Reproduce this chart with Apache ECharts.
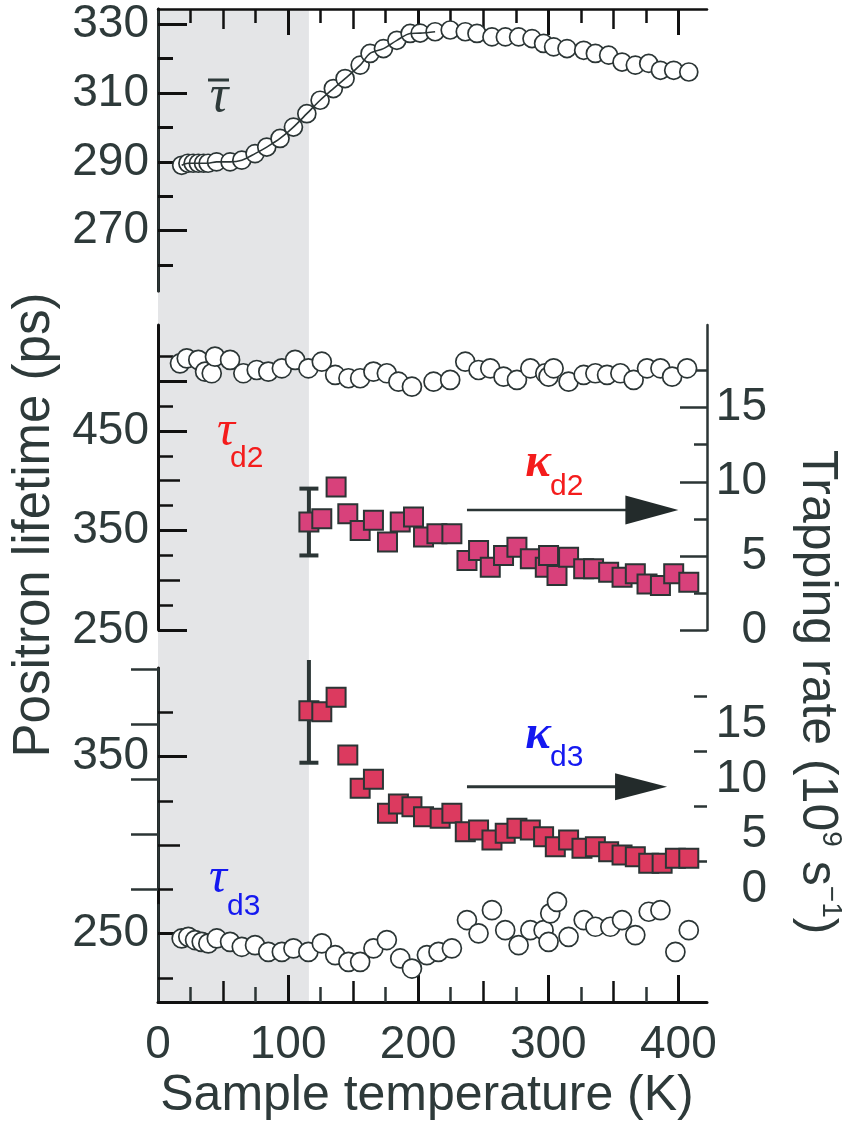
<!DOCTYPE html>
<html>
<head>
<meta charset="utf-8">
<title>Positron lifetime vs sample temperature</title>
<script src="https://cdn.jsdelivr.net/npm/echarts@6/dist/echarts.min.js"></script>
<style>
  html, body { margin: 0; padding: 0; background: #ffffff; }
  #chart { width: 844px; height: 1123px; }
</style>
</head>
<body>
<div id="chart"></div>
<script>
// ---------- data ----------
// Sample temperature axis (K)
const tempRange = [0, 422];
const shadedRange = [0, 116];
const xLabels = [0, 100, 200, 300, 400];
const xTick100 = [100, 200, 300, 400];
const xTick50 = [50, 150, 250, 350];
const xTick25 = [25, 75, 125, 175, 225, 275, 325, 375];

// Top panel: mean positron lifetime (ps)
const meanRange = [252.5, 334.4];
const meanLabels = [270, 290, 310, 330];
const meanMinor = [260, 280, 300, 320];
const tempMean = [18.2, 23, 27, 31, 35, 38.5, 45, 55.4, 64.4, 74.6, 83.6, 93.8, 104.1, 114.4, 124.6, 134.8, 143.8, 155.4, 163, 173.3, 183.6, 193.8, 201.5, 213, 224.6, 236.2, 245.2, 256.7, 267, 277.2, 287.5, 296.4, 304.1, 314.4, 327.2, 336.2, 346.4, 356.7, 366.9, 377.2, 386.2, 396.4, 408];
const tauMean = [289.0, 289.6, 289.6, 289.6, 289.6, 289.6, 290.0, 290.0, 290.5, 292.4, 294.3, 296.8, 300.1, 304.0, 307.9, 311.3, 314.2, 318.1, 321.5, 322.9, 325.3, 327.3, 327.4, 327.8, 328.3, 327.8, 327.3, 326.3, 326.3, 326.3, 325.8, 324.4, 323.4, 322.9, 322.4, 321.5, 321.0, 319.0, 318.1, 318.6, 316.6, 316.6, 316.1];
const meanFitMaxT = 215;

// Middle panel: lifetime tau_d2 (ps) and trapping rate kappa_d2 (1e9 s^-1)
const d2Range = [250, 556.5];
const d2Labels = [250, 350, 450];
const d2TickLong = [250, 350, 450, 500];
const d2TickMid = [300, 400];
const d2TickShort = [275, 325, 375, 425, 475, 525];
const tempTauD2 = [16.9, 22.1, 31, 36.2, 41.3, 43.8, 55.4, 65.6, 75.9, 84.8, 95.2, 105.4, 115.6, 125.9, 136.2, 146.4, 155.4, 165.6, 175.9, 184.8, 195.2, 211.8, 224.6, 236.2, 246.4, 255.4, 265.6, 275.9, 286.2, 297.7, 300.2, 304.1, 315.6, 327.2, 336.2, 345.2, 355.4, 365.6, 375.9, 386.2, 395.2, 406.7];
const tauD2 = [518, 523, 521.4, 509.6, 508, 524.7, 521.4, 508, 511.3, 509.6, 513, 521.4, 513, 519.6, 506.3, 503, 503, 509.6, 508, 499.5, 494.5, 499.5, 501.3, 519.6, 511.3, 513, 504.6, 501.3, 513, 508, 504.6, 513, 499.5, 506.3, 508, 506.3, 508, 501.3, 513, 513, 504.6, 513];

const kappaRangeD2 = [0, 20.58];
const kappaLabels = [0, 5, 10, 15];
const kappaTickLongD2 = [0, 5, 10, 15];
const kappaTickShort = [2.5, 7.5, 12.5, 17.5];
const tempKappaD2 = [116, 125.9, 136.9, 145.9, 155.4, 165.6, 176.4, 186.2, 196.4, 204.1, 214.4, 225.9, 237.5, 246.4, 255.4, 265.6, 275.9, 286.2, 297.7, 300.2, 306.7, 315.6, 327.2, 334.8, 346.4, 356.7, 366.9, 375.9, 386.2, 396.4, 408];
const kappaD2 = [7.28, 7.51, 9.65, 7.85, 6.72, 7.40, 5.93, 7.28, 7.62, 6.27, 6.50, 6.50, 4.69, 5.37, 4.24, 5.03, 5.59, 4.80, 4.24, 5.03, 3.67, 4.91, 4.13, 4.13, 3.90, 3.56, 3.79, 3.11, 3.00, 3.79, 3.22];
const errKappaD2 = [[116, 5.03, 9.54]];
const arrowD2 = { start: 237.5, end: 400, level: 8.1 };

// Bottom panel: lifetime tau_d3 (ps) and trapping rate kappa_d3 (1e9 s^-1)
const d3Range = [211.3, 400];
const d3Labels = [250, 350];
const d3TickLong = [250, 350];
const d3TickMid = [300];
const d3TickShort = [225, 275, 325, 375];
const tempTauD3 = [18.2, 23.3, 28.5, 33.6, 38.7, 45.2, 55.4, 64.4, 74.6, 84.8, 95.2, 104.1, 115.6, 125.9, 136.2, 146.4, 155.4, 165.6, 175.9, 186.2, 195.2, 206.7, 215.6, 225.9, 237.5, 246.4, 256.7, 266.9, 277.2, 286.2, 296.4, 300.2, 301.5, 306.7, 315.6, 327.2, 336.2, 347.7, 356.7, 366.9, 377.2, 386.2, 397.7, 408];
const tauD3 = [247.2, 248.1, 246.3, 245.3, 244.4, 247.2, 245.3, 242.5, 243.4, 239.6, 239.6, 241.6, 239.6, 244.4, 237.8, 234.0, 234.0, 241.6, 246.3, 235.9, 230.2, 237.8, 239.6, 241.6, 257.6, 250.1, 263.2, 251.9, 243.4, 251.9, 251.9, 245.3, 261.4, 267.9, 248.1, 257.6, 253.8, 253.8, 257.6, 249.1, 262.3, 263.2, 239.6, 251.9];

const kappaRangeD3 = [0, 20];
const kappaTickLongD3 = [0, 5, 10, 15, 20];
const tempKappaD3 = [116, 125.9, 136.9, 145.9, 155.4, 165.6, 176.4, 184.8, 195.2, 204.1, 216.9, 225.9, 236.2, 246.4, 256.7, 266.9, 275.9, 286.2, 296.4, 305.4, 315.6, 325.9, 336.2, 346.4, 356.7, 366.9, 377.2, 387.5, 397.7, 408];
const kappaD3 = [16.21, 16.12, 17.43, 12.18, 9.15, 9.97, 6.88, 7.73, 7.48, 6.57, 6.43, 6.88, 5.21, 5.36, 4.45, 5.06, 5.52, 5.36, 4.75, 3.85, 4.45, 3.70, 3.85, 3.39, 3.09, 2.94, 2.34, 2.34, 2.79, 2.79];
const errKappaD3 = [[116, 11.48, 20.82]];
const arrowD3 = { start: 237.5, end: 391.3, level: 9.3 };

// ---------- styling ----------
const INK = '#2e3a3a';
const AXIS_DARK = '#111111';
const AXIS_SLATE = '#2b3535';
const FONT = 'Liberation Sans';
const LABEL_SIZE = 46;
const RED = '#f41c1c';
const BLUE = '#1418f0';
const BAND = '#e4e5e7';

function zip(xs, ys) { return xs.map((x, i) => [x, ys[i]]); }

function grid(top, height) {
  return { left: 158, width: 549, top: top, height: height, containLabel: false, outerBoundsMode: 'none' };
}

const labelStyle = { fontSize: LABEL_SIZE, fontFamily: FONT, color: INK };

// An axis that only carries inward ticks at the given values
function tickAxis(base, values, len, width, color) {
  return Object.assign({
    type: 'value', z: 5,
    axisLine: { show: false },
    axisLabel: { show: false },
    splitLine: { show: false },
    axisTick: { show: true, inside: true, length: len, customValues: values, lineStyle: { color: color, width: width } }
  }, base);
}

function hiddenAxis(base) {
  return Object.assign({ type: 'value', show: false, splitLine: { show: false } }, base);
}

const xBase = (g) => ({ gridIndex: g, min: tempRange[0], max: tempRange[1] });

const xAxes = [
  hiddenAxis(xBase(0)),
  // top panel: upper frame with ticks
  Object.assign(tickAxis(Object.assign(xBase(1), { position: 'top' }), xTick100, 26, 3, AXIS_DARK), {
    axisLine: { show: true, lineStyle: { color: AXIS_DARK, width: 2.5 } }
  }),
  tickAxis(Object.assign(xBase(1), { position: 'top' }), xTick50, 20, 2.5, AXIS_DARK),
  tickAxis(Object.assign(xBase(1), { position: 'top' }), xTick25, 14, 2.5, AXIS_DARK),
  hiddenAxis(xBase(2)),
  // bottom panel: temperature axis with labels
  Object.assign(tickAxis(Object.assign(xBase(3), { position: 'bottom' }), xTick100, 27, 3, AXIS_DARK), {
    axisLine: { show: true, lineStyle: { color: AXIS_DARK, width: 3 } },
    axisLabel: Object.assign({ show: true, customValues: xLabels, margin: 20 }, labelStyle)
  }),
  tickAxis(Object.assign(xBase(3), { position: 'bottom' }), xTick50, 21, 2.5, AXIS_DARK),
  tickAxis(Object.assign(xBase(3), { position: 'bottom' }), xTick25, 15, 2.5, AXIS_SLATE),
  hiddenAxis(xBase(4)),
  hiddenAxis(xBase(5))
];

function leftMain(g, range, labels, ticks, padTop) {
  return Object.assign(tickAxis({ gridIndex: g, position: 'left', min: range[0], max: range[1] }, ticks, 29, 3, AXIS_DARK), {
    axisLine: { show: true, lineStyle: { color: AXIS_DARK, width: 3 } },
    axisLabel: Object.assign({ show: true, customValues: labels, margin: 9, padding: [padTop, 0, 0, 0] }, labelStyle)
  });
}

function rightMain(g, range, labels, ticks) {
  return Object.assign(tickAxis({ gridIndex: g, position: 'right', min: range[0], max: range[1] }, ticks, 27, 2.5, AXIS_SLATE), {
    axisLine: { show: true, lineStyle: { color: AXIS_SLATE, width: 2.5 } },
    axisLabel: Object.assign({ show: true, customValues: labels, margin: 60, align: 'right', padding: [0, 0, 14, 0] }, labelStyle)
  });
}

function frameOnly(g, position, range) {
  return {
    type: 'value', gridIndex: g, position: position, min: range[0], max: range[1], z: 5,
    axisLine: { show: true, lineStyle: { color: AXIS_SLATE, width: 2.5 } },
    axisTick: { show: false }, axisLabel: { show: false }, splitLine: { show: false }
  };
}

const yAxes = [
  hiddenAxis({ gridIndex: 0, min: 0, max: 1 }),
  // top panel
  leftMain(1, meanRange, meanLabels, meanLabels, 10),
  tickAxis({ gridIndex: 1, position: 'left', min: meanRange[0], max: meanRange[1] }, meanMinor, 15, 3, AXIS_DARK),
  frameOnly(1, 'right', meanRange),
  // middle panel, lifetime
  leftMain(2, d2Range, d2Labels, d2TickLong, 0),
  tickAxis({ gridIndex: 2, position: 'left', min: d2Range[0], max: d2Range[1] }, d2TickMid, 22, 2.5, AXIS_DARK),
  tickAxis({ gridIndex: 2, position: 'left', min: d2Range[0], max: d2Range[1] }, d2TickShort, 15, 2.5, AXIS_DARK),
  // middle panel, trapping rate
  rightMain(2, kappaRangeD2, kappaLabels, kappaTickLongD2),
  tickAxis({ gridIndex: 2, position: 'right', min: kappaRangeD2[0], max: kappaRangeD2[1] }, kappaTickShort, 13, 2.5, AXIS_SLATE),
  // bottom panel, lifetime
  leftMain(3, d3Range, d3Labels, d3TickLong, 14),
  tickAxis({ gridIndex: 3, position: 'left', min: d3Range[0], max: d3Range[1] }, d3TickMid, 22, 2.5, AXIS_DARK),
  tickAxis({ gridIndex: 3, position: 'left', min: d3Range[0], max: d3Range[1] }, d3TickShort, 15, 2.5, AXIS_DARK),
  // bottom panel, trapping rate
  rightMain(4, kappaRangeD3, kappaLabels, kappaTickLongD3),
  tickAxis({ gridIndex: 4, position: 'right', min: kappaRangeD3[0], max: kappaRangeD3[1] }, kappaTickShort, 13, 2.5, AXIS_SLATE),
  // bottom panel, lower right frame
  frameOnly(5, 'right', [0, 1])
];

function circles(name, x, y, data, size) {
  return {
    name: name, type: 'scatter', xAxisIndex: x, yAxisIndex: y, z: 6,
    symbol: 'circle', symbolSize: size, data: data,
    itemStyle: { color: '#ffffff', borderColor: AXIS_SLATE, borderWidth: 1.7, opacity: 1 }
  };
}

function squares(name, x, y, data, fill) {
  return {
    name: name, type: 'scatter', xAxisIndex: x, yAxisIndex: y, z: 7,
    symbol: 'rect', symbolSize: 19, data: data,
    itemStyle: { color: fill, borderColor: AXIS_SLATE, borderWidth: 2, opacity: 1 }
  };
}

function errorBars(name, x, y, data, capTop) {
  return {
    name: name, type: 'custom', xAxisIndex: x, yAxisIndex: y, z: 6, clip: false,
    encode: { x: 0, y: [1, 2] },
    data: data,
    renderItem: function (params, api) {
      const t = api.value(0);
      const lo = api.coord([t, api.value(1)]);
      const hi = api.coord([t, api.value(2)]);
      const half = 9.5;
      const style = { stroke: AXIS_SLATE, lineWidth: 4 };
      const children = [
        { type: 'line', shape: { x1: lo[0], y1: lo[1], x2: hi[0], y2: hi[1] }, style: style },
        { type: 'line', shape: { x1: lo[0] - half, y1: lo[1], x2: lo[0] + half, y2: lo[1] }, style: style }
      ];
      if (capTop) {
        children.push({ type: 'line', shape: { x1: hi[0] - half, y1: hi[1], x2: hi[0] + half, y2: hi[1] }, style: style });
      }
      return { type: 'group', children: children };
    }
  };
}

const meanData = zip(tempMean, tauMean);

const series = [
  // shaded low-temperature range across all panels
  {
    name: 'band', type: 'custom', xAxisIndex: 0, yAxisIndex: 0, z: 1, silent: true,
    data: [shadedRange],
    renderItem: function (params, api) {
      const x0 = api.coord([api.value(0), 0])[0];
      const x1 = api.coord([api.value(1), 0])[0];
      const cs = params.coordSys;
      return { type: 'rect', shape: { x: x0, y: cs.y, width: x1 - x0, height: cs.height }, style: { fill: BAND } };
    }
  },
  circles('tauMean', 1, 1, meanData, 18),
  {
    name: 'tauMeanFit', type: 'line', xAxisIndex: 1, yAxisIndex: 1, z: 8,
    data: meanData.filter(p => p[0] <= meanFitMaxT),
    showSymbol: false, smooth: 0.3,
    lineStyle: { color: AXIS_SLATE, width: 1.6 }
  },
  circles('tauD2', 4, 4, zip(tempTauD2, tauD2), 19),
  errorBars('kappaD2err', 4, 7, errKappaD2, true),
  squares('kappaD2', 4, 7, zip(tempKappaD2, kappaD2), '#d8417b'),
  circles('tauD3', 5, 9, zip(tempTauD3, tauD3), 19),
  errorBars('kappaD3err', 8, 12, errKappaD3, false),
  squares('kappaD3', 8, 12, zip(tempKappaD3, kappaD3), '#dc3a5f')
];

const chart = echarts.init(document.getElementById('chart'), null, { renderer: 'canvas', width: 844, height: 1123 });

chart.setOption({
  animation: false,
  backgroundColor: '#ffffff',
  grid: [grid(9, 993), grid(9, 282), grid(325, 305), grid(668, 334), grid(669, 220), grid(905, 97)],
  xAxis: xAxes,
  yAxis: yAxes,
  series: series
});

// ---------- annotations ----------
function greek(x, y, ch, color, size, weight) {
  return { type: 'text', x: x, y: y, z: 20, style: { text: ch, fill: color, font: 'italic ' + weight + ' ' + size + 'px "Liberation Serif"', align: 'center', verticalAlign: 'middle' } };
}
function subscript(x, y, txt, color) {
  return { type: 'text', x: x, y: y, z: 20, style: { text: txt, fill: color, font: '30px "Liberation Sans"', align: 'left', verticalAlign: 'middle' } };
}
function arrow(seriesIndex, a, headLen, headHalf, width) {
  const p0 = chart.convertToPixel({ seriesIndex: seriesIndex }, [a.start, a.level]);
  const p1 = chart.convertToPixel({ seriesIndex: seriesIndex }, [a.end, a.level]);
  return [
    { type: 'line', z: 20, shape: { x1: p0[0], y1: p0[1], x2: p1[0] - headLen + 2, y2: p1[1] }, style: { stroke: AXIS_SLATE, lineWidth: width } },
    { type: 'polygon', z: 20, shape: { points: [[p1[0] - headLen, p1[1] - headHalf], [p1[0], p1[1]], [p1[0] - headLen, p1[1] + headHalf]] }, style: { fill: '#232b2b' } }
  ];
}

const graphics = [
  greek(219, 97, 'τ', INK, 52, 'normal'),
  { type: 'line', z: 20, shape: { x1: 208, y1: 80, x2: 229, y2: 80 }, style: { stroke: INK, lineWidth: 3 } },
  greek(226, 432, 'τ', RED, 50, 'normal'),
  subscript(230, 459, 'd2', RED),
  greek(218, 879, 'τ', BLUE, 50, 'normal'),
  subscript(227, 907, 'd3', BLUE),
  greek(538, 464, 'κ', RED, 48, 'bold'),
  subscript(550, 487, 'd2', RED),
  greek(538, 736, 'κ', BLUE, 48, 'bold'),
  subscript(550, 758, 'd3', BLUE),
  { type: 'text', x: 35, y: 525, rotation: Math.PI / 2, z: 20,
    style: { text: 'Positron lifetime (ps)', fill: INK, font: '51px "Liberation Sans"', align: 'center', verticalAlign: 'middle' } },
  { type: 'text', x: 817, y: 692, rotation: -Math.PI / 2, z: 20,
    style: {
      text: '{m|Trapping rate (10}{s|9}{m| s}{s|−1}{m|)}',
      align: 'center', verticalAlign: 'middle',
      rich: {
        m: { fontSize: 50, fontFamily: FONT, fill: INK, lineHeight: 56 },
        s: { fontSize: 28, fontFamily: FONT, fill: INK, verticalAlign: 'top', lineHeight: 30 }
      }
    } },
  { type: 'text', x: 427, y: 1096, z: 20,
    style: { text: 'Sample temperature (K)', fill: INK, font: '50px "Liberation Sans"', align: 'center', verticalAlign: 'middle' } }
].concat(arrow(5, arrowD2, 53, 14.5, 2.5), arrow(8, arrowD3, 52, 13.5, 3));

chart.setOption({ graphic: graphics });
</script>
</body>
</html>
